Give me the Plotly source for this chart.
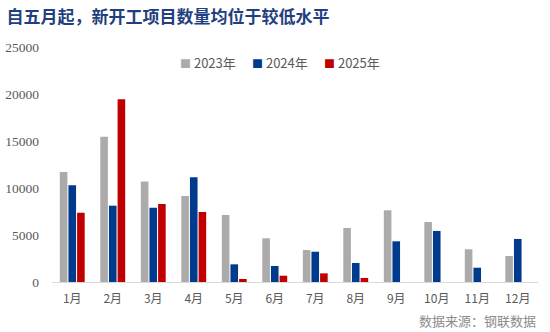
import plotly.graph_objects as go

months = ["1月", "2月", "3月", "4月", "5月", "6月", "7月", "8月", "9月", "10月", "11月", "12月"]
y2023 = [11700, 15450, 10700, 9150, 7130, 4650, 3400, 5750, 7630, 6380, 3480, 2770]
y2024 = [10300, 8120, 7900, 11150, 1880, 1700, 3220, 2020, 4330, 5430, 1520, 4580]
y2025 = [7370, 19450, 8300, 7450, 320, 670, 920, 430, None, None, None, None]
yticks = [0, 5000, 10000, 15000, 20000, 25000]

series = [("2023年", y2023, "#ADAAAA"), ("2024年", y2024, "#003A8C"), ("2025年", y2025, "#C00000")]
legend_x = [0.259, 0.407, 0.555]

fig = go.Figure()
for (name, vals, col), lx in zip(series, legend_x):
    fig.add_trace(go.Bar(x=months, y=vals, name=name, marker=dict(color=col, line=dict(width=0))))
    fig.add_annotation(text=f'<span style="color:{col};font-size:11px">■</span> {name}', xref="paper", yref="paper",
                       x=lx, y=0.936, xanchor="left", yanchor="middle", showarrow=False,
                       font=dict(family="Noto Sans CJK SC", size=13, color="#595959"))

fig.update_layout(
    width=550, height=332,
    margin=dict(l=52, r=12, t=47, b=50),
    paper_bgcolor="white", plot_bgcolor="white",
    barmode="group", bargap=0.36, bargroupgap=0.12,
    showlegend=False,
    title=dict(text="<b>自五月起，新开工项目数量均位于较低水平</b>",
               x=0.012, xanchor="left", y=0.95, yanchor="middle",
               font=dict(family="Noto Sans CJK SC", size=17, color="#1F3F7F")),
)
fig.update_yaxes(range=[0, 25000], tickvals=yticks, ticktext=[str(v) for v in yticks],
                 showgrid=False, zeroline=False, showline=False, ticks="", ticklabelstandoff=12,
                 automargin=False,
                 tickfont=dict(family="Liberation Serif", size=13.5, color="#595959"))
fig.update_xaxes(showline=True, linecolor="#D9D9D9", linewidth=1, ticks="", ticklabelstandoff=6,
                 automargin=False,
                 tickfont=dict(family="Noto Sans CJK SC", size=12, color="#595959"))
fig.add_annotation(text="数据来源：钢联数据", xref="paper", yref="paper",
                   x=1.0, y=-0.165, xanchor="right", yanchor="middle", showarrow=False,
                   font=dict(family="Noto Sans CJK SC", size=13, color="#8C8C8C"))
fig.write_html("out.html")
